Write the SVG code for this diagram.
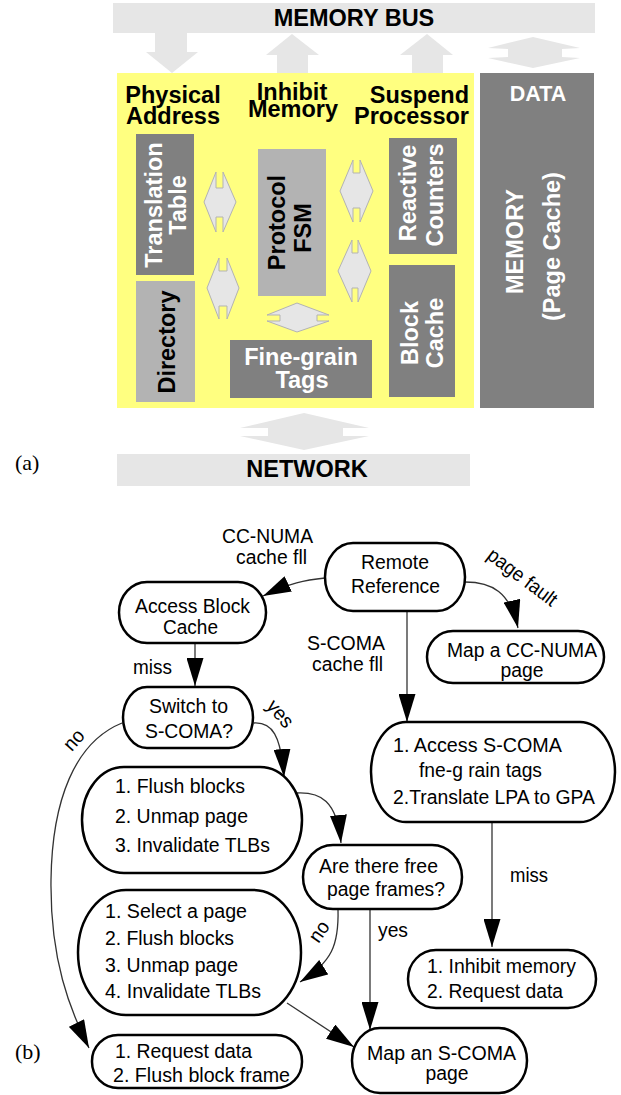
<svg xmlns="http://www.w3.org/2000/svg" width="621" height="1095" viewBox="0 0 621 1095">
<style>
.bar{fill:#e6e6e6}
.big{fill:#e6e6e6}
.dbl{fill:#e6e6e6;stroke:#b3b3b3;stroke-width:1}
.dark{fill:#808080}
.light{fill:#b3b3b3}
.yel{fill:#ffff80}
.hb{font-family:"Liberation Sans",Arial,sans-serif;font-weight:bold;font-size:23.5px;fill:#000}
.w{fill:#fff}
.node{fill:#fff;stroke:#000;stroke-width:2.5}
.ft{font-family:"Liberation Sans",Arial,sans-serif;font-size:20px;fill:#000}
.edge{fill:none;stroke:#333;stroke-width:1.3}
.lab{font-family:"Liberation Serif","Times New Roman",serif;font-size:22px;fill:#000}
</style>
<defs>
<marker id="ah" markerUnits="userSpaceOnUse" markerWidth="28" markerHeight="17" refX="28" refY="8.5" orient="auto" viewBox="0 0 28 17">
<path d="M0,0 L28,8.5 L0,17 z" fill="#000"/>
</marker>
</defs>

<!-- Part (a) -->
<g id="memory-bus">
<rect class="bar" x="113" y="3" width="482" height="30"/>
<text class="hb" x="354" y="26" text-anchor="middle">MEMORY BUS</text>
</g>
<g id="bus-arrows">
<polygon class="big" points="155,33 187,33 187,52 198,52 172,73 146,52 155,52"/>
<polygon class="big" points="292,34 319,55 308,55 308,73 277,73 277,55 266,55"/>
<polygon class="big" points="427,34 453,55 443,55 443,73 412,73 412,55 400,55"/>
<polygon class="big" points="533,37 580,48 562,49 562,57 580,58 533,68 488,58 508,57 508,49 488,48"/>
</g>
<g id="controller">
<rect class="yel" x="117" y="73" width="357" height="335"/>
<text class="hb" text-anchor="middle"><tspan x="173" y="103">Physical</tspan><tspan x="173" y="124">Address</tspan></text>
<text class="hb" text-anchor="middle"><tspan x="292" y="100">Inhibit</tspan><tspan x="293" y="117">Memory</tspan></text>
<text class="hb" text-anchor="end"><tspan x="469" y="103">Suspend</tspan><tspan x="469" y="124">Processor</tspan></text>
</g>
<g id="translation-table">
<rect class="dark" x="136" y="134" width="58" height="141"/>
<text class="hb w" x="162" y="205" text-anchor="middle" transform="rotate(-90 162 205)">Translation</text>
<text class="hb w" x="186" y="205" text-anchor="middle" transform="rotate(-90 186 205)">Table</text>
</g>
<g id="directory">
<rect class="light" x="136" y="281" width="59" height="121"/>
<text class="hb" x="175" y="342" text-anchor="middle" transform="rotate(-90 175 342)">Directory</text>
</g>
<g id="protocol-fsm">
<rect class="light" x="258" y="149" width="68" height="147"/>
<text class="hb" x="285" y="222.5" text-anchor="middle" transform="rotate(-90 285 222.5)">Protocol</text>
<text class="hb" x="311" y="228" text-anchor="middle" transform="rotate(-90 311 228)">FSM</text>
</g>
<g id="reactive-counters">
<rect class="dark" x="389" y="138" width="68" height="116"/>
<text class="hb w" x="416" y="193" text-anchor="middle" transform="rotate(-90 416 193)">Reactive</text>
<text class="hb w" x="443" y="195" text-anchor="middle" transform="rotate(-90 443 195)">Counters</text>
</g>
<g id="block-cache">
<rect class="dark" x="389" y="265" width="66" height="132"/>
<text class="hb w" x="418" y="333" text-anchor="middle" transform="rotate(-90 418 333)">Block</text>
<text class="hb w" x="443" y="333" text-anchor="middle" transform="rotate(-90 443 333)">Cache</text>
</g>
<g id="fine-grain-tags">
<rect class="dark" x="230" y="340" width="142" height="58"/>
<text class="hb w" text-anchor="middle"><tspan x="301" y="365">Fine-grain</tspan><tspan x="302" y="388">Tags</tspan></text>
</g>
<g id="inner-arrows">
<polygon class="dbl" points="204,202 216,172 216,188 223,188 223,172 236,202 223,232 223,217 216,217 216,232"/>
<polygon class="dbl" points="207,288 219,258 219,271 227,271 227,258 239,288 227,319 227,306 219,306 219,319"/>
<polygon class="dbl" points="340,191 353,160 353,173 360,173 360,160 373,191 360,222 360,208 353,208 353,222"/>
<polygon class="dbl" points="338,271 352,240 352,253 358,253 358,240 371,271 358,302 358,288 352,288 352,302"/>
<polygon class="dbl" points="297,303 329,315 317,315 317,321 329,321 297,332 267,321 280,321 280,315 267,315"/>
</g>
<g id="memory-page-cache">
<rect class="dark" x="480" y="73" width="114" height="335"/>
<text class="hb w" x="538" y="101" text-anchor="middle" style="font-size:21.5px">DATA</text>
<text class="hb w" x="523" y="241.5" text-anchor="middle" transform="rotate(-90 523 241.5)">MEMORY</text>
<text class="hb w" x="560" y="246.5" text-anchor="middle" transform="rotate(-90 560 246.5)">(Page Cache)</text>
</g>
<g id="network-arrow">
<polygon class="big" points="304,413 369,428 343,428 343,436 369,436 304,450 240,436 268,436 268,428 240,428"/>
</g>
<g id="network">
<rect class="bar" x="117" y="454" width="353" height="32"/>
<text class="hb" x="307" y="477" text-anchor="middle">NETWORK</text>
</g>
<text class="lab" x="15" y="470">(a)</text>

<!-- Part (b) -->
<g id="connectors">
<path class="edge" d="M325,578 C305,580 290,583 263,596" marker-end="url(#ah)"/>
<path class="edge" d="M465,582 C492,582 510,592 518,628" marker-end="url(#ah)"/>
<path class="edge" d="M407,611 L407,722" marker-end="url(#ah)"/>
<path class="edge" d="M492,822 L492,947" marker-end="url(#ah)"/>
<path class="edge" d="M195,643 L195,686" marker-end="url(#ah)"/>
<path class="edge" d="M254,723 C272,722 281,735 284,777" marker-end="url(#ah)"/>
<path class="edge" d="M122,723 C75,742 52,800 51,880 C50,960 70,1010 89,1048" marker-end="url(#ah)"/>
<path class="edge" d="M297,793 C320,792 337,800 341,843" marker-end="url(#ah)"/>
<path class="edge" d="M338,909 C339,945 332,962 300,982" marker-end="url(#ah)"/>
<path class="edge" d="M370,909 L370,1030" marker-end="url(#ah)"/>
<path class="edge" d="M287,1003 L354,1047" marker-end="url(#ah)"/>
<text class="ft" text-anchor="middle"><tspan x="267.5" y="543" textLength="91" lengthAdjust="spacingAndGlyphs">CC-NUMA</tspan><tspan x="271.5" y="564" textLength="71" lengthAdjust="spacingAndGlyphs">cache fll</tspan></text>
<text class="ft" text-anchor="middle"><tspan x="346" y="650" textLength="78" lengthAdjust="spacingAndGlyphs">S-COMA</tspan><tspan x="347.5" y="671" textLength="71" lengthAdjust="spacingAndGlyphs">cache fll</tspan></text>
<text class="ft" transform="translate(521.5 578.5) rotate(37)" x="0" y="5" text-anchor="middle" textLength="82" lengthAdjust="spacingAndGlyphs">page fault</text>
<text class="ft" x="133" y="674" textLength="39" lengthAdjust="spacingAndGlyphs">miss</text>
<text class="ft" x="510" y="882" textLength="38" lengthAdjust="spacingAndGlyphs">miss</text>
<text class="ft" transform="translate(277.5 716) rotate(50)" x="0" y="3" text-anchor="middle" textLength="30" lengthAdjust="spacingAndGlyphs">yes</text>
<text class="ft" transform="translate(75 741) rotate(-48)" x="0" y="5" text-anchor="middle" textLength="21" lengthAdjust="spacingAndGlyphs">no</text>
<text class="ft" transform="translate(320.5 932.5) rotate(-55)" x="0" y="5" text-anchor="middle" textLength="21" lengthAdjust="spacingAndGlyphs">no</text>
<text class="ft" x="378" y="937" textLength="30" lengthAdjust="spacingAndGlyphs">yes</text>
</g>
<g id="remote-reference">
<rect class="node" x="325" y="543" width="140" height="68" rx="28" ry="34"/>
<text class="ft" text-anchor="middle"><tspan x="395" y="569" textLength="68" lengthAdjust="spacingAndGlyphs">Remote</tspan><tspan x="395.5" y="593" textLength="89" lengthAdjust="spacingAndGlyphs">Reference</tspan></text>
</g>
<g id="access-block-cache">
<rect class="node" x="119" y="582" width="147" height="61" rx="28" ry="30.5"/>
<text class="ft" text-anchor="middle"><tspan x="192.5" y="613" textLength="115" lengthAdjust="spacingAndGlyphs">Access Block</tspan><tspan x="190.5" y="634" textLength="55" lengthAdjust="spacingAndGlyphs">Cache</tspan></text>
</g>
<g id="map-cc-numa">
<rect class="node" x="427" y="631" width="177" height="52" rx="26" ry="26"/>
<text class="ft" text-anchor="middle"><tspan x="522" y="657" textLength="150" lengthAdjust="spacingAndGlyphs">Map a CC-NUMA</tspan><tspan x="522" y="677" textLength="43" lengthAdjust="spacingAndGlyphs">page</tspan></text>
</g>
<g id="switch-to-scoma">
<rect class="node" x="123" y="687" width="130" height="61" rx="24" ry="30.5"/>
<text class="ft" text-anchor="middle"><tspan x="188.5" y="713" textLength="79" lengthAdjust="spacingAndGlyphs">Switch to</tspan><tspan x="189" y="738" textLength="88" lengthAdjust="spacingAndGlyphs">S-COMA?</tspan></text>
</g>
<g id="access-scoma-tags">
<rect class="node" x="371" y="722" width="244" height="100" rx="35" ry="50"/>
<text class="ft"><tspan x="393" y="752" textLength="169" lengthAdjust="spacingAndGlyphs">1. Access S-COMA</tspan><tspan x="419" y="777" textLength="123" lengthAdjust="spacingAndGlyphs">fne-g rain tags</tspan><tspan x="393" y="804" textLength="202" lengthAdjust="spacingAndGlyphs">2.Translate LPA to GPA</tspan></text>
</g>
<g id="flush-unmap">
<rect class="node" x="82" y="767" width="220" height="106" rx="42" ry="53"/>
<text class="ft"><tspan x="115" y="793" textLength="130" lengthAdjust="spacingAndGlyphs">1. Flush blocks</tspan><tspan x="115" y="823" textLength="133" lengthAdjust="spacingAndGlyphs">2. Unmap page</tspan><tspan x="115" y="852" textLength="155" lengthAdjust="spacingAndGlyphs">3. Invalidate TLBs</tspan></text>
</g>
<g id="free-page-frames">
<rect class="node" x="303" y="845" width="159" height="64" rx="30" ry="32"/>
<text class="ft" text-anchor="middle"><tspan x="378.5" y="873" textLength="119" lengthAdjust="spacingAndGlyphs">Are there free</tspan><tspan x="386" y="896" textLength="118" lengthAdjust="spacingAndGlyphs">page frames?</tspan></text>
</g>
<g id="inhibit-request">
<rect class="node" x="408" y="950" width="188" height="58" rx="28" ry="29"/>
<text class="ft"><tspan x="427" y="973" textLength="149" lengthAdjust="spacingAndGlyphs">1. Inhibit memory</tspan><tspan x="427" y="998" textLength="136" lengthAdjust="spacingAndGlyphs">2. Request data</tspan></text>
</g>
<g id="select-page">
<rect class="node" x="78" y="890" width="223" height="125" rx="48" ry="62.5"/>
<text class="ft"><tspan x="105" y="918" textLength="142" lengthAdjust="spacingAndGlyphs">1. Select a page</tspan><tspan x="105" y="945" textLength="129" lengthAdjust="spacingAndGlyphs">2. Flush blocks</tspan><tspan x="105" y="972" textLength="133" lengthAdjust="spacingAndGlyphs">3. Unmap page</tspan><tspan x="105" y="998" textLength="156" lengthAdjust="spacingAndGlyphs">4. Invalidate TLBs</tspan></text>
</g>
<g id="request-flush-frame">
<rect class="node" x="92" y="1035" width="210" height="53" rx="26" ry="26"/>
<text class="ft"><tspan x="115" y="1058" textLength="137" lengthAdjust="spacingAndGlyphs">1. Request data</tspan><tspan x="113" y="1082" textLength="177" lengthAdjust="spacingAndGlyphs">2. Flush block frame</tspan></text>
</g>
<g id="map-scoma">
<rect class="node" x="352" y="1028" width="175" height="65" rx="28" ry="32.5"/>
<text class="ft" text-anchor="middle"><tspan x="441.5" y="1060" textLength="149" lengthAdjust="spacingAndGlyphs">Map an S-COMA</tspan><tspan x="447" y="1080" textLength="43" lengthAdjust="spacingAndGlyphs">page</tspan></text>
</g>
<text class="lab" x="15" y="1059">(b)</text>
</svg>
